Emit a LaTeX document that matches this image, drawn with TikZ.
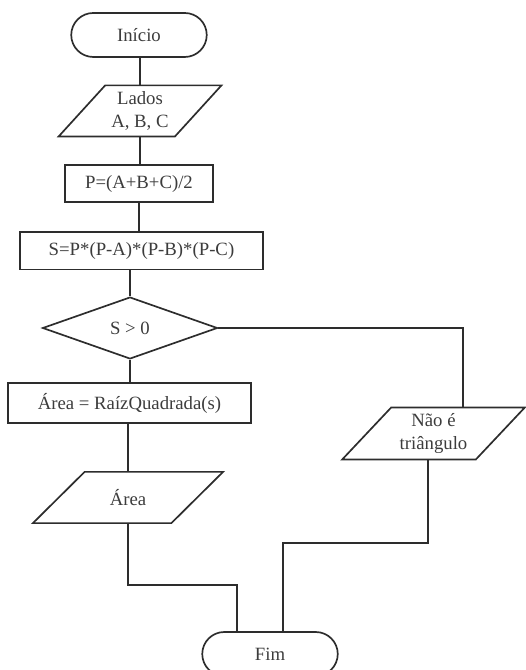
\documentclass[tikz,border=0pt]{standalone}
\usepackage{fontspec}
\setmainfont{Liberation Serif}
\usetikzlibrary{shapes.geometric,shapes.misc}
\definecolor{linegray}{RGB}{45,45,45}
\definecolor{textgray}{RGB}{60,60,60}

\begin{document}
\begin{tikzpicture}[
    every node/.style={text=textgray, font=\normalsize},
    terminal/.style={rounded rectangle, draw=linegray, line width=0.9pt, minimum width=2.775cm, minimum height=0.825cm},
    process/.style={rectangle, draw=linegray, line width=0.9pt, minimum height=0.7cm, align=center},
    io/.style={trapezium, trapezium left angle=53, trapezium right angle=127, trapezium stretches=true, draw=linegray, line width=0.9pt, minimum height=0.96cm, align=center, inner xsep=0pt},
    decision/.style={diamond, draw=linegray, line width=0.9pt, minimum width=3.28cm, minimum height=1.16cm, inner sep=0pt},
    link/.style={draw=linegray, line width=0.9pt}
]
    \useasboundingbox (0,0) rectangle (9.844,-12.5625);

    % Main path
    \node[terminal] (inicio) at (2.606, -0.656) {Início};
    \node[io, minimum width=3.075cm] (lados) at (2.625, -2.081) {Lados\\A, B, C};
    \node[process, minimum width=2.775cm] (calcP) at (2.606, -3.441) {P=(A+B+C)/2};
    \node[process, minimum width=4.556cm] (calcS) at (2.653, -4.706) {S=P*(P-A)*(P-B)*(P-C)};
    \node[decision] (teste) at (2.4375, -6.15) {S > 0};
    \node[process, minimum width=4.556cm, minimum height=0.75cm] (area) at (2.428, -7.556) {Área = RaízQuadrada(s)};
    \node[io, minimum width=3.581cm] (saida) at (2.4, -9.328) {Área};

    % Other branch
    \node[io, minimum width=3.431cm] (nao) at (8.128, -8.128) {Não é\\triângulo};

    % End
    \node[terminal] (fim) at (5.0625, -12.2625) {Fim};

    \coordinate (j1) at (2.44, -10.97);
    \coordinate (j2) at (5.31, -10.18);

    \draw[link] (inicio.south -| lados.north) -- (lados.north);
    \draw[link] (lados.south) -- (lados.south |- calcP.north);
    \draw[link] (calcP.south) -- (calcP.south |- calcS.north);
    \draw[link] (teste.north |- calcS.south) -- (teste.north);
    \draw[link] (teste.south) -- (teste.south |- area.north);
    \draw[link] (saida.north |- area.south) -- (saida.north);
    \draw[link] (saida.south) -- (saida.south |- j1) -| ([xshift=-0.62cm]fim.north);

    \draw[link] (teste.east) -| ([xshift=0.55cm]nao.north);
    \draw[link] ([xshift=-0.1cm]nao.south) |- (j2) -- (j2 |- fim.north);
\end{tikzpicture}
\end{document}
